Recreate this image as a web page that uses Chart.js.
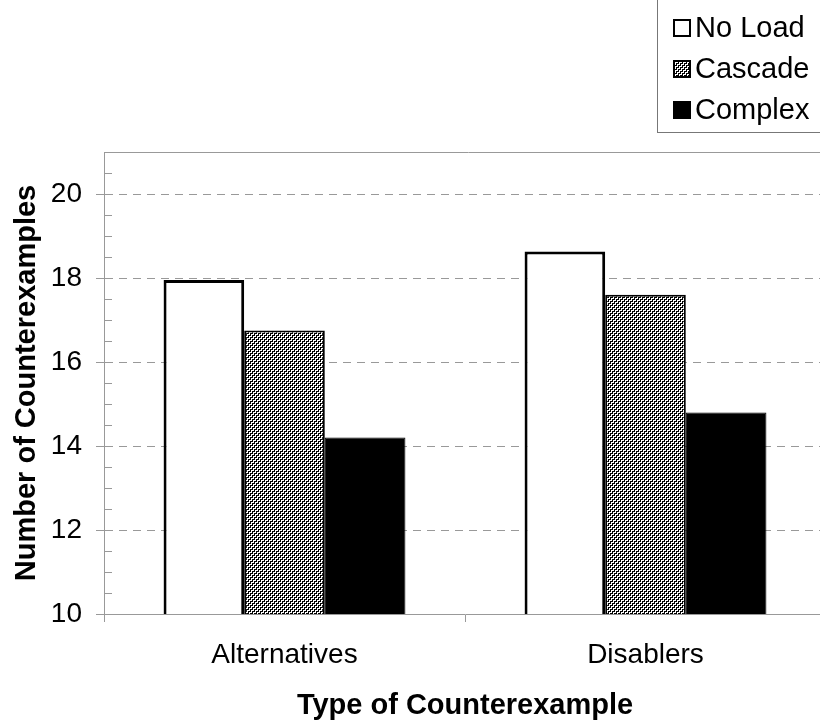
<!DOCTYPE html>
<html>
<head>
<meta charset="utf-8">
<script src="https://cdn.jsdelivr.net/npm/chart.js@4"></script>
<style>
  html, body { margin: 0; padding: 0; background: #fff; overflow: hidden; }
  #wrap { position: relative; width: 832px; height: 721px; }
</style>
</head>
<body>
<div id="wrap"><canvas id="myChart"></canvas></div>
<script>
// data
const categories = ['Alternatives', 'Disablers'];
const seriesNames = ['No Load', 'Cascade', 'Complex'];
const noLoad = [17.95, 18.63];
const cascade = [16.75, 17.6];
const complex = [14.2, 14.8];

Chart.defaults.font.family = '"Liberation Sans", Arial, sans-serif';
Chart.defaults.color = '#000';

// fine diagonal dither for the Cascade bars
function hatch() {
  const c = document.createElement('canvas');
  c.width = 4; c.height = 4;
  const g = c.getContext('2d');
  g.fillStyle = '#fff';
  g.fillRect(0, 0, 4, 4);
  g.fillStyle = '#000';
  for (let y = 0; y < 4; y++) {
    for (let x = 0; x < 4; x++) {
      const d = (x + y) % 4;
      if (d === 0 || ((d === 1 || d === 3) && x % 2 === 0)) g.fillRect(x, y, 1, 1);
    }
  }
  return g.createPattern(c, 'repeat');
}
const cascadeFill = hatch();

const axisGrey = '#999';

// minor ticks inside the y axis, top frame line and boxed legend
const extras = {
  id: 'extras',
  afterDraw(chart) {
    const ctx = chart.ctx;
    const y = chart.scales.y;
    const area = chart.chartArea;
    ctx.save();
    ctx.strokeStyle = axisGrey;
    ctx.lineWidth = 1;
    ctx.beginPath();
    for (let v = y.min + 0.5; v < y.max; v += 0.5) {
      if (v % 2 === 0) continue;
      const py = Math.round(y.getPixelForValue(v)) + 0.5;
      ctx.moveTo(area.left, py);
      ctx.lineTo(area.left + 8, py);
    }
    ctx.moveTo(area.left, Math.round(area.top) + 0.5);
    ctx.lineTo(area.right + 10, Math.round(area.top) + 0.5);
    ctx.stroke();

    // legend box
    ctx.strokeStyle = '#777';
    ctx.strokeRect(657.5, -2, 200, 134.5);
    ctx.font = '29px "Liberation Sans", Arial, sans-serif';
    ctx.textBaseline = 'middle';
    const rows = [28, 69, 110];
    chart.data.datasets.forEach((ds, i) => {
      const cy = rows[i];
      ctx.fillStyle = ds.backgroundColor;
      ctx.fillRect(674, cy - 8, 16, 16);
      ctx.strokeStyle = '#000';
      ctx.lineWidth = 2;
      ctx.strokeRect(674, cy - 8, 16, 16);
      ctx.fillStyle = '#000';
      ctx.fillText(ds.label, 695, cy + 1);
    });
    ctx.restore();
  }
};

const data = {
  labels: categories,
  datasets: [
    { label: seriesNames[0], data: noLoad, backgroundColor: '#fff', borderColor: '#000', borderWidth: 3 },
    { label: seriesNames[1], data: cascade, backgroundColor: cascadeFill, borderColor: '#000', borderWidth: 2 },
    { label: seriesNames[2], data: complex, backgroundColor: '#000', borderColor: '#000', borderWidth: 1 }
  ]
};

const config = {
  type: 'bar',
  data: data,
  options: {
    responsive: true,
    maintainAspectRatio: false,
    animation: false,
    layout: { padding: { top: 152, right: 6, left: 0, bottom: 0 } },
    datasets: { bar: { barPercentage: 1.0, categoryPercentage: 0.67, borderSkipped: false } },
    plugins: { legend: { display: false }, tooltip: { enabled: false } },
    scales: {
      x: {
        offset: true,
        grid: { offset: true, drawOnChartArea: false, color: axisGrey, tickLength: 8 },
        border: { color: axisGrey, width: 1 },
        ticks: { font: { size: 28 }, padding: 16 },
        title: { display: true, text: 'Type of Counterexample', font: { size: 29, weight: 'bold' }, padding: { top: 0, bottom: -2 } },
        afterFit(scale) { scale.height = 107; }
      },
      y: {
        min: 10,
        max: 21,
        ticks: { stepSize: 2, includeBounds: false, font: { size: 28 }, padding: 14 },
        grid: { color: axisGrey, tickLength: 8, tickBorderDash: [] },
        border: { color: axisGrey, width: 1, dash: [8, 6] },
        title: { display: true, text: 'Number of Counterexamples', font: { size: 29, weight: 'bold' }, padding: { top: 10, bottom: 0 } },
        afterFit(scale) { scale.width = 104; }
      }
    }
  },
  plugins: [extras]
};

let myChart = new Chart(document.getElementById('myChart').getContext('2d'), config);
</script>
</body>
</html>
